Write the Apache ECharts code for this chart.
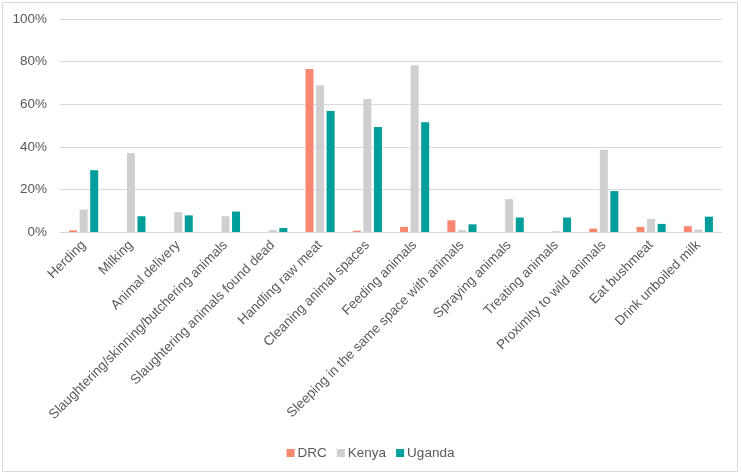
<!DOCTYPE html>
<html><head><meta charset="utf-8">
<script src="https://cdn.jsdelivr.net/npm/echarts@6/dist/echarts.min.js"></script>
<style>html,body{margin:0;padding:0;background:#fff}#c{width:741px;height:475px}</style>
</head><body><div id="c"></div>
<script>
const categories = ["Herding","Milking","Animal delivery","Slaughtering/skinning/butchering animals","Slaughtering animals found dead","Handling raw meat","Cleaning animal spaces","Feeding animals","Sleeping in the same space with animals","Spraying animals","Treating animals","Proximity to wild animals","Eat bushmeat","Drink unboiled milk"];
const drc    = [0.8, 0, 0, 0, 0, 76.5, 0.6, 2.4, 5.5, 0, 0, 1.6, 2.4, 2.7];
const kenya  = [10.5, 37, 9.3, 7.4, 0.9, 68.9, 62.5, 78.3, 0.9, 15.4, 0.4, 38.6, 6.1, 1.1];
const uganda = [29, 7.4, 7.8, 9.6, 1.9, 56.8, 49.3, 51.5, 3.6, 6.8, 6.8, 19.2, 3.8, 7.2];
const yTicks = [0, 20, 40, 60, 80, 100];

const chart = echarts.init(document.getElementById('c'), null, {renderer:'canvas'});
const font = 'Liberation Sans, Arial, sans-serif';
chart.setOption({
  animation:false,
  textStyle:{fontFamily:font},
  graphic:[{type:'rect',shape:{x:2.5,y:2.5,width:735,height:469},style:{fill:'none',stroke:'#d9d9d9',lineWidth:1},silent:true}],
  grid:{left:60,right:19,top:19,bottom:243,containLabel:false},
  legend:{bottom:10,left:'center',itemWidth:8,itemHeight:8,itemGap:10,icon:'rect',
    textStyle:{color:'#595959',fontSize:13.5,fontFamily:font,padding:[0,0,0,-2]},data:['DRC','Kenya','Uganda']},
  xAxis:{type:'category',data:categories,
    axisLine:{lineStyle:{color:'#d9d9d9'}},axisTick:{show:false},
    axisLabel:{rotate:45,interval:0,color:'#595959',fontSize:13.5,fontFamily:font,margin:11}},
  yAxis:{type:'value',min:yTicks[0],max:yTicks[yTicks.length-1],interval:20,
    axisLine:{show:false},axisTick:{show:false},
    splitLine:{lineStyle:{color:'#d9d9d9'}},
    axisLabel:{formatter:v=>v+'%',color:'#595959',fontSize:13.5,fontFamily:font,margin:13}},
  series:[
    {name:'DRC',type:'bar',data:drc,itemStyle:{color:'#F8876F'},barWidth:8,barGap:'32%'},
    {name:'Kenya',type:'bar',data:kenya,itemStyle:{color:'#D0CECE'},barWidth:8,barGap:'32%'},
    {name:'Uganda',type:'bar',data:uganda,itemStyle:{color:'#009E9A'},barWidth:8,barGap:'32%'}
  ]
});
</script></body></html>
